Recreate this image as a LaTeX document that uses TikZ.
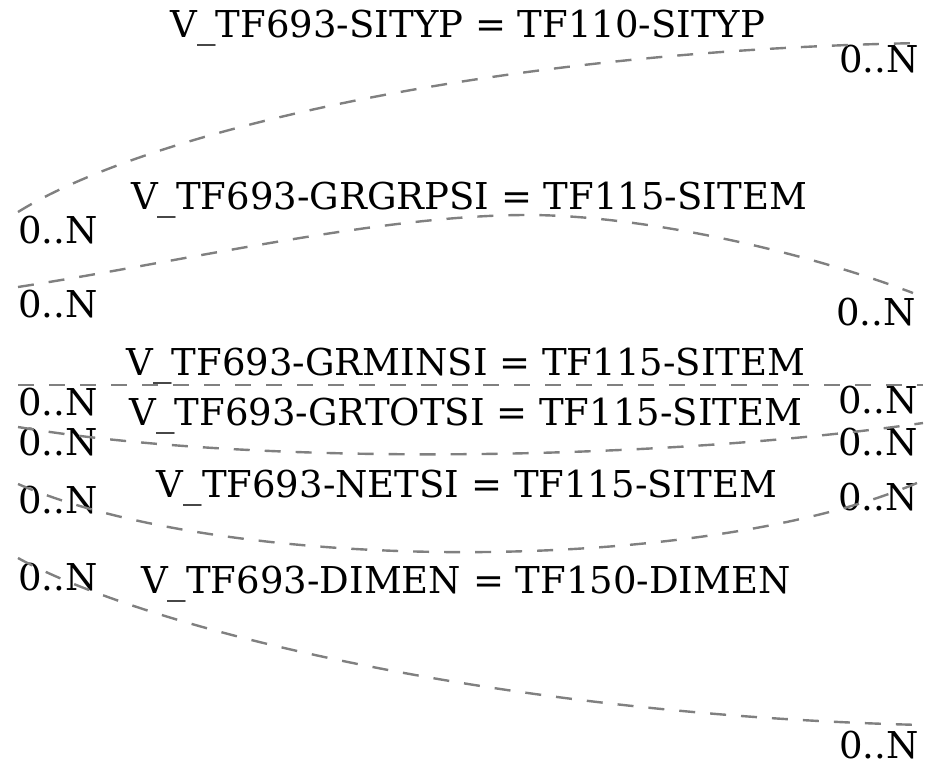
\documentclass[tikz,border=0pt]{standalone}
\usepackage{fontspec}
\setmainfont{DejaVu Serif}
\definecolor{LinkGray}{RGB}{128,128,128}

\begin{document}
\begin{tikzpicture}[x=1pt, y=-1pt,
        rel/.style={draw=LinkGray, line width=2.4pt, dash pattern=on 16pt off 15pt},
    card/.style={inner sep=0pt, font=\fontsize{37}{44}\selectfont},
        cond/.style={inner sep=0pt, anchor=base, font=\fontsize{37}{44}\selectfont}
]
    \useasboundingbox (0,0) rectangle (925,766);
    % end points of the links
    \coordinate (a1) at (18,212);  \coordinate (b1) at (923,43);
    \coordinate (a2) at (18,287);  \coordinate (m2) at (527,215);  \coordinate (b2) at (913,293);
    \coordinate (a3) at (18,385);  \coordinate (b3) at (923,385);
    \coordinate (a4) at (18,427);  \coordinate (b4) at (923,423);
    \coordinate (a5) at (18,484);  \coordinate (b5) at (917,483);
    \coordinate (a6) at (18,558);  \coordinate (b6) at (923,725);

    \node[cond] (sityp) at (468,37) {V\_TF693-SITYP = TF110-SITYP};
    \node[cond] (grgrpsi) at (469,209) {V\_TF693-GRGRPSI = TF115-SITEM};
    \node[cond] (grminsi) at (466,375) {V\_TF693-GRMINSI = TF115-SITEM};
    \node[cond] (grtotsi) at (466,425) {V\_TF693-GRTOTSI = TF115-SITEM};
    \node[cond] (netsi) at (467,497) {V\_TF693-NETSI = TF115-SITEM};
    \node[cond] (dimen) at (466,593) {V\_TF693-DIMEN = TF150-DIMEN};

    \node[card, anchor=base west] (l1) at (18,243) {0..N};
    \node[card, anchor=base east] (r1) at (919,72) {0..N};
    \node[card, anchor=base west] (l2) at (18,317) {0..N};
    \node[card, anchor=base east] (r2) at (916,325) {0..N};
    \node[card, anchor=base west] (l3) at (18,415) {0..N};
    \node[card, anchor=base east] (r3) at (918,413) {0..N};
    \node[card, anchor=base west] (l4) at (18,455) {0..N};
    \node[card, anchor=base east] (r4) at (918,455) {0..N};
    \node[card, anchor=base west] (l5) at (18,513) {0..N};
    \node[card, anchor=base east] (r5) at (918,510) {0..N};
    \node[card, anchor=base west] (l6) at (18,590) {0..N};
    \node[card, anchor=base east] (r6) at (919,758) {0..N};

    \draw[rel] (a1) .. controls (150,130) and (500,50) .. (b1);
    \draw[rel] (a2) .. controls (180,262) and (380,215) .. (m2)
                    .. controls (640,215) and (800,250) .. (b2);
    \draw[rel] (a3) -- (b3);
    \draw[rel] (a4) .. controls (250,466) and (650,462) .. (b4);
    \draw[rel] (a5) .. controls (230,575) and (700,575) .. (b5);
    \draw[rel] (a6) .. controls (150,630) and (500,715) .. (b6);
\end{tikzpicture}
\end{document}
